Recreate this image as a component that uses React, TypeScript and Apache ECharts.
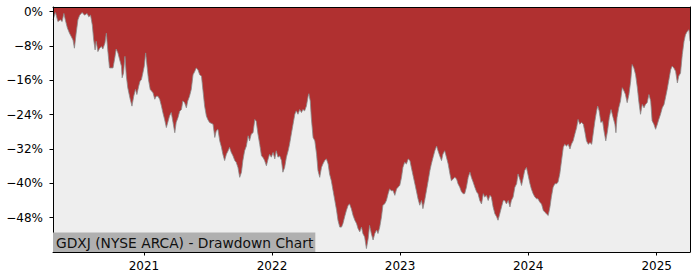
import React, { useEffect, useRef } from "react";
import * as echarts from "echarts";

const dates: string[] = [
  "2020-04-17","2020-04-24","2020-05-01","2020-05-08","2020-05-13","2020-05-18","2020-05-22","2020-05-28","2020-06-03","2020-06-08",
  "2020-06-13","2020-06-17","2020-06-22","2020-06-27","2020-07-02","2020-07-09","2020-07-16","2020-07-23","2020-07-28","2020-08-02",
  "2020-08-07","2020-08-11","2020-08-15","2020-08-18","2020-08-23","2020-08-28","2020-09-02","2020-09-06","2020-09-12","2020-09-16",
  "2020-09-20","2020-09-25","2020-10-05","2020-10-10","2020-10-14","2020-10-19","2020-10-24","2020-10-29","2020-10-31","2020-11-04",
  "2020-11-08","2020-11-12","2020-11-16","2020-11-23","2020-11-28","2020-12-03","2020-12-08","2020-12-12","2020-12-17","2020-12-21",
  "2020-12-25","2020-12-29","2021-01-02","2021-01-06","2021-01-10","2021-01-14","2021-01-19","2021-01-27","2021-02-01","2021-02-05",
  "2021-02-10","2021-02-15","2021-02-20","2021-02-24","2021-03-01","2021-03-06","2021-03-10","2021-03-15","2021-03-20","2021-03-25",
  "2021-03-30","2021-04-03","2021-04-08","2021-04-13","2021-04-18","2021-04-22","2021-04-27","2021-05-02","2021-05-06","2021-05-11",
  "2021-05-16","2021-05-21","2021-05-26","2021-05-30","2021-06-04","2021-06-09","2021-06-14","2021-06-18","2021-06-23","2021-06-28",
  "2021-07-02","2021-07-07","2021-07-17","2021-07-22","2021-07-26","2021-07-31","2021-08-05","2021-08-10","2021-08-14","2021-08-19",
  "2021-08-24","2021-08-29","2021-09-02","2021-09-07","2021-09-12","2021-09-17","2021-09-21","2021-09-26","2021-10-01","2021-10-06",
  "2021-10-10","2021-10-15","2021-10-20","2021-10-25","2021-10-29","2021-11-03","2021-11-08","2021-11-13","2021-11-17","2021-11-22",
  "2021-11-27","2021-12-02","2021-12-06","2021-12-11","2021-12-16","2021-12-21","2021-12-25","2021-12-30","2022-01-04","2022-01-09",
  "2022-01-13","2022-01-18","2022-01-23","2022-01-28","2022-02-01","2022-02-06","2022-02-11","2022-02-16","2022-02-20","2022-02-25",
  "2022-03-02","2022-03-07","2022-03-11","2022-03-16","2022-03-21","2022-03-26","2022-03-30","2022-04-04","2022-04-09","2022-04-14",
  "2022-04-16","2022-04-20","2022-04-23","2022-04-28","2022-05-03","2022-05-08","2022-05-12","2022-05-17","2022-05-22","2022-05-26",
  "2022-05-31","2022-06-05","2022-06-10","2022-06-14","2022-06-19","2022-06-24","2022-06-29","2022-07-04","2022-07-08","2022-07-13",
  "2022-07-18","2022-07-22","2022-07-27","2022-08-01","2022-08-06","2022-08-10","2022-08-15","2022-08-20","2022-08-25","2022-08-30",
  "2022-09-03","2022-09-08","2022-09-13","2022-09-17","2022-09-22","2022-09-27","2022-10-02","2022-10-06","2022-10-11","2022-10-16",
  "2022-10-21","2022-10-26","2022-10-30","2022-11-04","2022-11-09","2022-11-13","2022-11-18","2022-11-23","2022-11-28","2022-12-02",
  "2022-12-07","2022-12-12","2022-12-17","2022-12-22","2022-12-26","2022-12-31","2023-01-05","2023-01-09","2023-01-14","2023-01-19",
  "2023-01-24","2023-01-29","2023-02-02","2023-02-07","2023-02-12","2023-02-17","2023-02-21","2023-02-26","2023-03-03","2023-03-07",
  "2023-03-12","2023-03-17","2023-03-22","2023-03-27","2023-03-31","2023-04-05","2023-04-10","2023-04-15","2023-04-19","2023-04-24",
  "2023-04-29","2023-05-03","2023-05-08","2023-05-13","2023-05-18","2023-05-23","2023-05-27","2023-06-01","2023-06-06","2023-06-11",
  "2023-06-15","2023-06-20","2023-06-25","2023-06-30","2023-07-04","2023-07-09","2023-07-14","2023-07-19","2023-07-23","2023-07-28",
  "2023-08-02","2023-08-07","2023-08-11","2023-08-16","2023-08-21","2023-08-26","2023-08-30","2023-09-04","2023-09-09","2023-09-14",
  "2023-09-18","2023-09-23","2023-09-28","2023-10-03","2023-10-07","2023-10-12","2023-10-17","2023-10-22","2023-10-26","2023-10-31",
  "2023-11-05","2023-11-10","2023-11-14","2023-11-19","2023-11-24","2023-11-29","2023-12-03","2023-12-08","2023-12-13","2023-12-18",
  "2023-12-22","2023-12-27","2023-12-31","2024-01-06","2024-01-10","2024-01-15","2024-01-20","2024-01-25","2024-01-29","2024-02-03",
  "2024-02-08","2024-02-13","2024-02-17","2024-02-22","2024-02-27","2024-03-03","2024-03-07","2024-03-12","2024-03-17","2024-03-22",
  "2024-03-26","2024-03-31","2024-04-05","2024-04-10","2024-04-14","2024-04-19","2024-04-24","2024-04-29","2024-05-03","2024-05-08",
  "2024-05-13","2024-05-18","2024-05-22","2024-05-27","2024-06-01","2024-06-06","2024-06-10","2024-06-15","2024-06-20","2024-06-25",
  "2024-06-30","2024-07-04","2024-07-09","2024-07-14","2024-07-17","2024-07-21","2024-07-26","2024-07-31","2024-08-04","2024-08-09",
  "2024-08-14","2024-08-19","2024-08-24","2024-08-30","2024-09-04","2024-09-07","2024-09-10","2024-09-15","2024-09-20","2024-09-25",
  "2024-09-30","2024-10-04","2024-10-09","2024-10-14","2024-10-19","2024-10-23","2024-10-28","2024-11-02","2024-11-07","2024-11-11",
  "2024-11-16","2024-11-21","2024-11-26","2024-11-30","2024-12-05","2024-12-10","2024-12-15","2024-12-19","2024-12-24","2024-12-29",
  "2025-01-03","2025-01-07","2025-01-12","2025-01-17","2025-01-22","2025-01-26","2025-01-31","2025-02-05","2025-02-10","2025-02-14",
  "2025-02-19","2025-02-24","2025-03-01","2025-03-05","2025-03-10","2025-03-15","2025-03-20","2025-03-24","2025-03-29","2025-04-03",
  "2025-04-06"
];

const drawdown: number[] = [
  -1.9,-0.2,-2.3,-1.9,-2.3,-0.4,-1.9,-3.8,-5.0,-5.8,
  -6.6,-8.5,-5.0,-1.9,-0.8,-0.2,-0.8,-0.4,-1.2,-0.8,
  -3.1,-6.6,-8.9,-6.9,-9.3,-8.5,-8.1,-8.7,-7.3,-5.0,
  -8.9,-13.1,-13.1,-10.8,-8.7,-9.6,-11.2,-12.7,-15.4,-14.3,
  -10.4,-15.0,-17.7,-20.4,-22.0,-19.7,-18.1,-19.3,-17.4,-16.2,
  -15.8,-14.3,-12.7,-9.6,-12.7,-15.8,-18.1,-18.9,-20.4,-19.7,
  -19.7,-20.4,-22.0,-23.5,-25.1,-27.0,-25.8,-24.3,-23.5,-25.8,
  -28.2,-25.8,-24.7,-23.2,-22.8,-20.8,-21.2,-22.4,-20.8,-19.7,
  -18.1,-14.7,-13.9,-13.1,-13.5,-14.7,-15.0,-18.1,-22.0,-24.3,
  -25.1,-25.8,-26.2,-29.3,-27.8,-27.4,-30.1,-31.6,-33.2,-34.7,
  -33.2,-32.4,-31.6,-32.8,-33.6,-34.7,-35.1,-36.3,-38.6,-37.4,
  -34.7,-32.4,-31.3,-28.9,-30.1,-28.5,-28.2,-25.1,-25.5,-28.5,
  -30.9,-33.6,-33.9,-34.7,-35.9,-34.3,-33.2,-33.9,-32.8,-34.3,
  -32.4,-33.9,-33.6,-34.7,-37.4,-36.3,-33.9,-32.4,-30.9,-28.5,
  -26.2,-23.9,-23.1,-23.9,-22.8,-23.5,-22.8,-23.1,-22.0,-19.7,
  -19.1,-20.8,-24.7,-29.3,-30.1,-33.2,-37.0,-38.6,-36.3,-35.5,
  -34.7,-34.3,-35.5,-37.8,-39.4,-41.7,-44.0,-46.3,-48.6,-50.2,
  -50.2,-49.4,-47.8,-46.3,-45.1,-44.8,-45.9,-47.5,-48.6,-49.4,
  -50.5,-51.3,-50.2,-51.7,-52.5,-55.2,-52.9,-49.8,-51.7,-53.2,
  -51.7,-50.9,-51.7,-50.2,-47.8,-45.1,-44.8,-44.0,-42.4,-41.3,
  -41.7,-41.7,-42.8,-41.3,-40.9,-40.5,-38.6,-36.3,-35.1,-35.5,
  -34.3,-34.7,-36.3,-38.2,-40.1,-42.0,-43.6,-45.1,-44.0,-45.9,
  -44.0,-41.7,-39.4,-37.0,-35.5,-33.9,-32.4,-31.3,-32.4,-33.6,
  -34.7,-33.2,-32.4,-33.9,-35.5,-37.8,-39.4,-39.0,-38.6,-39.0,
  -40.1,-40.9,-42.0,-42.4,-42.4,-40.9,-38.6,-37.4,-38.6,-39.7,
  -40.9,-42.0,-42.4,-44.0,-44.8,-42.4,-43.2,-42.8,-44.0,-42.8,
  -43.2,-45.5,-47.1,-47.8,-48.6,-47.1,-45.5,-44.0,-44.0,-44.8,
  -44.0,-45.5,-44.0,-43.2,-40.9,-40.1,-37.8,-39.0,-40.5,-38.6,
  -37.0,-36.3,-37.8,-40.1,-41.3,-42.4,-43.2,-43.6,-43.6,-44.4,
  -44.8,-46.3,-46.7,-47.1,-47.5,-45.5,-43.2,-40.9,-40.1,-40.1,
  -39.7,-37.8,-34.7,-31.6,-30.9,-31.3,-30.9,-32.0,-30.9,-30.1,
  -28.5,-27.0,-25.1,-26.2,-25.8,-26.2,-27.8,-30.1,-30.9,-30.5,
  -30.9,-28.5,-25.5,-23.1,-22.0,-23.1,-25.8,-25.5,-27.8,-30.1,
  -27.8,-24.7,-22.8,-24.7,-26.2,-28.2,-24.7,-22.4,-20.8,-17.7,
  -18.5,-19.3,-21.2,-19.3,-16.2,-12.3,-13.1,-14.7,-17.7,-20.8,
  -23.9,-21.6,-22.4,-21.6,-21.2,-19.3,-20.8,-25.4,-26.2,-27.4,
  -26.2,-25.1,-23.9,-22.4,-21.6,-20.1,-18.1,-15.8,-13.5,-12.7,
  -13.1,-13.9,-16.6,-15.0,-14.3,-10.0,-6.9,-5.4,-4.6,-4.2,
  -6.9
];

const yTicks: number[] = [0, -8, -16, -24, -32, -40, -48];
const yearTicks: string[] = ["2021-01-01", "2022-01-01", "2023-01-01", "2024-01-01", "2025-01-01"];
const titleText = "GDXJ (NYSE ARCA) - Drawdown Chart";

const FONT = "DejaVu Sans";

function toTs(s: string): number {
  const [y, m, d] = s.split("-").map(Number);
  return Date.UTC(y, m - 1, d);
}

export default function App() {
  const ref = useRef<HTMLDivElement>(null);
  useEffect(() => {
    if (!ref.current) return;
    const chart = echarts.init(ref.current, null, { renderer: "svg" });
    const xs = dates.map(toTs);
    const data = xs.map((t, i) => [t, drawdown[i]]);
    const yearTs = yearTicks.map(toTs);
    chart.setOption({
      animation: false,
      backgroundColor: "#ffffff",
      title: {
        text: titleText,
        left: 53,
        top: 232.5,
        padding: [2, 2, 1, 3],
        backgroundColor: "#b0b0b0",
        textStyle: {
          fontFamily: FONT,
          fontSize: 13.8,
          fontWeight: "normal",
          color: "#111111",
          lineHeight: 16.5,
        },
        z: 20,
      },
      grid: {
        left: 53,
        right: 10,
        top: 7,
        bottom: 28,
        show: true,
        backgroundColor: "#eeeeee",
        borderWidth: 0,
      },
      xAxis: [
        {
          type: "value",
          min: xs[0],
          max: xs[xs.length - 1],
          position: "bottom",
          z: 10,
          axisLine: { show: true, onZero: false, lineStyle: { color: "#000", width: 1 } },
          axisTick: { show: true, customValues: yearTs, length: 3.5, lineStyle: { color: "#000", width: 1 } },
          axisLabel: {
            customValues: yearTs,
            formatter: (v: number) => String(new Date(v).getUTCFullYear()),
            color: "#000",
            fontSize: 12,
            fontFamily: FONT,
            margin: 8,
          },
          splitLine: { show: false },
        },
        {
          type: "value",
          position: "top",
          min: 0,
          max: 1,
          z: 10,
          axisLine: { show: true, onZero: false, lineStyle: { color: "#000", width: 1 } },
          axisTick: { show: false },
          axisLabel: { show: false },
          splitLine: { show: false },
        },
      ],
      yAxis: [
        {
          type: "value",
          min: -56,
          max: 1.1,
          z: 10,
          axisLine: { show: true, onZero: false, lineStyle: { color: "#000", width: 1 } },
          axisTick: { show: true, customValues: yTicks, length: 3.5, lineStyle: { color: "#000", width: 1 } },
          axisLabel: {
            customValues: yTicks,
            formatter: (v: number) => (v === 0 ? "0%" : "\u2212" + Math.abs(v) + "%"),
            color: "#000",
            fontSize: 12,
            fontFamily: FONT,
            margin: 10,
          },
          splitLine: { show: false },
        },
        {
          type: "value",
          position: "right",
          min: 0,
          max: 1,
          z: 10,
          axisLine: { show: true, onZero: false, lineStyle: { color: "#000", width: 1 } },
          axisTick: { show: false },
          axisLabel: { show: false },
          splitLine: { show: false },
        },
      ],
      series: [
        {
          type: "line",
          xAxisIndex: 0,
          yAxisIndex: 0,
          data,
          showSymbol: false,
          symbol: "none",
          lineStyle: { color: "#8a8a8a", width: 0.8 },
          areaStyle: { color: "#b03030", origin: "end", opacity: 1 },
          z: 2,
        },
      ],
    });
    return () => chart.dispose();
  }, []);
  return (
    <div
      ref={ref}
      style={{ position: "fixed", left: 0, top: 0, width: 700, height: 280 }}
    />
  );
}
